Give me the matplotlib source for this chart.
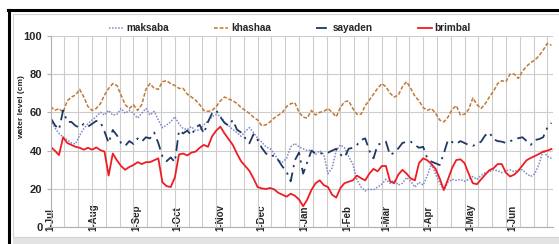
import matplotlib.pyplot as plt
import pandas as pd
from matplotlib.lines import Line2D
from matplotlib.patches import Rectangle

# readings every 3 days, 1-Jul to end of Jun
dates = pd.date_range("2012-07-01", periods=122, freq="3D")

maksaba = [56, 52, 49, 47, 45.6, 44, 43.5, 48, 51.5, 54,
           56, 57.7, 60, 58.6, 61, 58.5, 59, 62, 59.5, 61,
           59.5, 57, 59.5, 62, 58.6, 60.5, 56, 52, 53.4, 55,
           57.7, 54, 51.5, 51, 52.5, 50.5, 50.8, 53.4, 55.5, 57.7,
           59, 58, 55, 53, 51, 49.5, 47.5, 50, 52, 49.5,
           46.5, 44.5, 42, 41, 38.5, 35, 34, 36, 42, 43.8,
           42, 41, 40, 40.5, 38, 40, 38, 28, 31, 40,
           43, 41.5, 37, 33, 25, 21, 19, 20, 19.5, 21,
           22.5, 25, 23, 24.5, 22, 23, 26, 24, 21, 23.5,
           22, 27, 33, 28, 23, 19.5, 23.5, 25, 24.5, 25,
           24, 25, 26.5, 25, 27, 28.5, 29, 30, 29.5, 28.5,
           29.5, 30, 29, 30, 30, 28, 26.5, 28, 33, 40,
           37, 36]

khashaa = [63, 61, 62, 60, 66, 68, 69, 72, 68, 63,
           61, 62, 64.5, 69, 72.5, 75, 74, 69, 64, 62,
           64, 61, 64, 72, 75, 72.5, 72, 76, 76.5, 75,
           74, 72.5, 72.5, 69.5, 68, 66.4, 64, 61, 60.5, 61,
           63, 66, 68, 67, 66, 64.7, 62.5, 61, 59.5, 57.5,
           56, 53, 53.5, 55, 57, 58.5, 60, 63, 64.5, 65,
           60, 57.5, 57, 61, 58.6, 60, 60.5, 62, 60, 57.7,
           62.5, 65.5, 66, 62, 59, 59, 63.5, 66.4, 69.5, 72.5,
           75, 73.4, 70, 68, 69, 73.4, 76, 72.5, 68.5, 66,
           62.5, 61, 62, 59.5, 56, 55, 57.5, 61.5, 63.5, 58.6,
           59, 61.5, 67.5, 64, 62, 64.5, 68, 71, 75, 76.5,
           76, 80, 80, 77.7, 81.5, 84, 86, 87.3, 89.5, 92.5,
           96, 95]

sayaden = [57, 53.4, 51, 61, 55, 55, 53, 52, 54, 52.5,
           54, 55.5, 55, 50, 44, 50.8, 48, 44, 42.5, 45,
           43.5, 46.4, 44.7, 47, 46.4, 49.5, 44, 37, 34.5, 36.5,
           34, 50.5, 49, 50.5, 48, 52, 53.5, 49, 55, 59.5,
           61, 57.5, 54.5, 53, 56, 51, 49.5, 46.5, 43.8, 48.5,
           45.6, 41.5, 38.6, 37, 37.5, 35, 31.7, 29, 24, 35,
           39, 28, 34, 40, 38.5, 38.6, 38.6, 39, 40, 41,
           38, 36.5, 41, 41.5, 43, 45.6, 46.4, 40, 36, 43,
           44, 44.7, 37.7, 39, 41.2, 44, 44.7, 44.7, 43, 41.5,
           42, 36, 34.3, 33.4, 32.5, 38.6, 45.6, 44.5, 43.5, 45,
           44, 43, 42.5, 43.5, 44.7, 48, 49.5, 46, 45, 44.7,
           44, 45, 45.6, 46.5, 47, 45, 43, 45.6, 46, 47,
           52, 54.5]

brimbal = [42, 40, 37.7, 47, 44, 43, 42, 41.5, 40.5, 41.5,
           40.5, 41.7, 40.3, 39.5, 27, 38.5, 35, 32, 30, 31.5,
           32.5, 34, 33, 34, 34, 35, 36, 23.5, 21.5, 21,
           26, 38, 38.5, 37.5, 39, 39.5, 41.5, 43, 42, 47.5,
           50.5, 52.5, 49, 46, 43, 38.5, 34.5, 32, 29.5, 25.5,
           21, 20.3, 20, 20.5, 19.8, 18, 17, 16, 17.5, 16.5,
           14.5, 11, 14.5, 19.5, 23, 24.5, 22, 21, 17, 15.5,
           20.5, 23, 23.8, 24.5, 27, 25.6, 24.5, 28, 30.5, 29.2,
           32, 32, 24, 23, 27.5, 30, 28, 25.5, 24.5, 33.5,
           36, 35, 33, 30.5, 25.5, 19.5, 25, 31, 35.1, 35.5,
           33.5, 28, 23, 22.5, 25, 27.5, 29.8, 30.8, 33, 33,
           28.5, 26.5, 27.5, 29.5, 32.3, 35, 36.2, 37.2, 38.3, 39.5,
           40, 40.9]

month_starts = pd.date_range("2012-07-01", periods=12, freq="MS")
month_labels = ["1-Jul", "1-Aug", "1-Sep", "1-Oct", "1-Nov", "1-Dec",
                "1-Jan", "1-Feb", "1-Mar", "1-Apr", "1-May", "1-Jun"]
y_ticks = [0, 20, 40, 60, 80, 100]

plt.rcParams["font.family"] = ["Liberation Sans", "DejaVu Sans"]
plt.rcParams["font.weight"] = "bold"

W, H = 559, 244
fig = plt.figure(figsize=(W / 100, H / 100), dpi=100)

# frame around the chart
fig.add_artist(Rectangle((13 / W, 0), 1, 7 / H, transform=fig.transFigure,
                         facecolor="#e3e3e3", edgecolor="none"))
fig.add_artist(Rectangle((13 / W, 7 / H), 1, 223 / H, transform=fig.transFigure,
                         facecolor="none", edgecolor="#d4d4d4", lw=0.8))
fig.add_artist(Line2D([8 / W, 1], [1 - 10.3 / H] * 2, color="black", lw=2.2))
fig.add_artist(Line2D([8.7 / W] * 2, [0, 1 - 10.3 / H], color="black", lw=2.2))

ax = fig.add_axes([50.7 / W, 16.7 / H, 502 / W, 191.6 / H])

ax.plot(dates, maksaba, color="#7f86c8", lw=1.1, linestyle=(0, (1, 1)), label="maksaba")
ax.plot(dates, khashaa, color="#c07a35", lw=1.1, linestyle=(0, (2.5, 1.2)), label="khashaa")
ax.plot(dates, sayaden, color="#1f3864", lw=1.3, linestyle=(0, (6, 3, 1.2, 3)), label="sayaden")
ax.plot(dates, brimbal, color="#ee1d23", lw=1.3, label="brimbal")

ax.set_xlim(pd.Timestamp("2012-07-01"), pd.Timestamp("2013-06-29 22:00"))
ax.set_ylim(0, 100)
ax.set_axisbelow(True)

ax.set_yticks(y_ticks)
ax.yaxis.grid(True, color="#cccccc", lw=0.8)
ax.set_xticks(pd.date_range("2012-07-01", "2013-06-30", freq="10D"), minor=True)
ax.xaxis.grid(True, which="minor", color="#cccccc", lw=0.8)
ax.set_xticks(month_starts)
ax.set_xticklabels(month_labels, rotation=90, va="bottom", fontsize=7, color="#262626")
ax.tick_params(axis="x", which="both", length=0, pad=3)
ax.tick_params(axis="y", length=3, pad=3, color="#b0b0b0", labelsize=8, labelcolor="#262626")

for side in ["top", "right"]:
    ax.spines[side].set_visible(False)
for side in ["left", "bottom"]:
    ax.spines[side].set_color("#b0b0b0")
    ax.spines[side].set_linewidth(0.8)

fig.text(22 / W, 1 - 107 / H, "water level (cm)", rotation=90, ha="center", va="center",
         fontsize=6, color="#262626")

fig.legend(*ax.get_legend_handles_labels(), ncol=4, loc="center",
           bbox_to_anchor=(290 / W, 1 - 28 / H), frameon=False, fontsize=7.2,
           handlelength=1.4, columnspacing=4.5, handletextpad=0.3,
           labelcolor="#262626")

fig.savefig("out.png", dpi=100)
